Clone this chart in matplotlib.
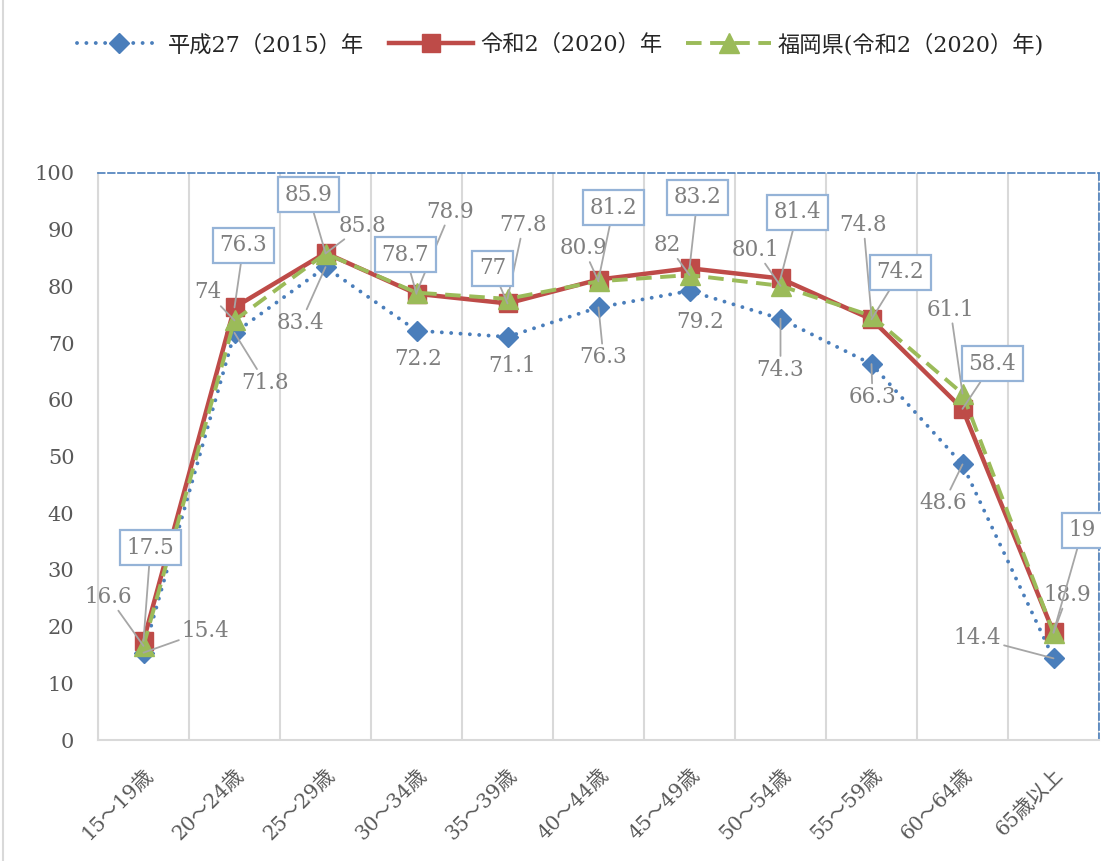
import matplotlib
matplotlib.use("Agg")
import matplotlib.pyplot as plt
from matplotlib.lines import Line2D
import numpy as np

plt.rcParams['font.family'] = ['DejaVu Serif', 'Noto Sans CJK JP']

# data
ages = ['15～19歳', '20～24歳', '25～29歳', '30～34歳', '35～39歳', '40～44歳',
        '45～49歳', '50～54歳', '55～59歳', '60～64歳', '65歳以上']
h27 = [15.4, 71.8, 83.4, 72.2, 71.1, 76.3, 79.2, 74.3, 66.3, 48.6, 14.4]
r2 = [17.5, 76.3, 85.9, 78.7, 77, 81.2, 83.2, 81.4, 74.2, 58.4, 19]
fukuoka = [16.6, 74, 85.8, 78.9, 77.8, 80.9, 82, 80.1, 74.8, 61.1, 18.9]
names = ['平成27（2015）年', '令和2（2020）年', '福岡県(令和2（2020）年)']

# label offsets in pixels (dx, dy) and whether a leader line is drawn
h27_off = [(62, 22), (31, -50), (-25, -56), (2, -28), (5, -29), (5, -50),
           (11, -31), (0, -51), (1, -33), (-19, -39), (-76, 20)]
h27_lead = [1, 1, 1, 0, 0, 1, 0, 1, 1, 1, 1]
r2_off = [(7, 93), (9, 62), (-17, 58), (-11, 39), (-15, 35), (15, 72),
          (8, 71), (17, 66), (29, 47), (30, 45), (29, 102)]
fk_off = [(-35, 49), (-27, 28), (37, 28), (34, 81), (16, 74), (-15, 33),
          (-22, 30), (-25, 36), (-8, 91), (-12, 84), (14, 38)]

blue = '#4a7ebb'
red = '#be4b48'
green = '#9bbb59'
lab_col = '#7f7f7f'
lead_col = '#a6a6a6'

fig = plt.figure(figsize=(11.01, 8.61), dpi=100)
ax = fig.add_axes([98 / 1101, 1 - 740 / 861, 1001 / 1101, 567 / 861])

x = np.arange(len(ages))
ax.plot(x, h27, color=blue, lw=2.8, linestyle=(0, (0.01, 2.4)),
        dash_capstyle='round', marker='D', ms=10.5, mec=blue, mfc=blue,
        label=names[0], zorder=3)
ax.plot(x, r2, color=red, lw=3.2, marker='s', ms=13, mec=red, mfc=red,
        label=names[1], zorder=4)
ax.plot(x, fukuoka, color=green, lw=2.8, linestyle=(0, (4, 2.2)),
        marker='^', ms=14, mec=green, mfc=green, label=names[2], zorder=5)

ax.set_xlim(-0.5, 10.5)
ax.set_ylim(0, 100)
ax.set_yticks(np.arange(0, 101, 10))
ax.set_xticks(x)
ax.set_xticklabels(ages, rotation=45, ha='right', va='top',
                   rotation_mode='anchor', fontsize=14.5, color='#595959')
ax.set_xticks(np.arange(-0.5, 11, 1), minor=True)
ax.grid(axis='x', which='minor', color='#d9d9d9', lw=1.5)
ax.tick_params(axis='x', which='both', length=0, pad=18)
ax.tick_params(axis='y', length=0, pad=17, labelsize=15, labelcolor='#595959')

for s in ['left', 'bottom']:
    ax.spines[s].set_color('#d9d9d9')
    ax.spines[s].set_linewidth(1.5)
for s in ['top', 'right']:
    ax.spines[s].set_color(blue)
    ax.spines[s].set_linestyle((0, (4, 2)))
    ax.spines[s].set_linewidth(1.2)

lead = dict(arrowstyle='-', color=lead_col, lw=1.3, shrinkA=0, shrinkB=0)

for i, v in enumerate(h27):
    ax.annotate(f'{v:g}', (i, v), xytext=h27_off[i], textcoords='offset pixels',
                ha='center', va='center', fontsize=15.5, color=lab_col,
                arrowprops=lead if h27_lead[i] else None, zorder=6)

for i, v in enumerate(fukuoka):
    ax.annotate(f'{v:g}', (i, v), xytext=fk_off[i], textcoords='offset pixels',
                ha='center', va='center', fontsize=15.5, color=lab_col,
                arrowprops=lead, zorder=6)

for i, v in enumerate(r2):
    ax.annotate(f'{v:g}', (i, v), xytext=r2_off[i], textcoords='offset pixels',
                ha='center', va='center', fontsize=15.5, color=lab_col,
                bbox=dict(boxstyle='square,pad=0.3', fc='white', ec='#95b3d7', lw=1.6),
                arrowprops=lead, zorder=7, annotation_clip=False)

fig.legend(loc='center', bbox_to_anchor=(0.509, 1 - 45 / 861), ncol=3,
           frameon=False, fontsize=16, handlelength=3.8, columnspacing=1.1,
           handletextpad=0.3, labelcolor='#262626')

fig.add_artist(Line2D([3 / 1101, 3 / 1101], [0, 1], color='#d9d9d9', lw=1.5))

fig.savefig('out.png', dpi=100)
